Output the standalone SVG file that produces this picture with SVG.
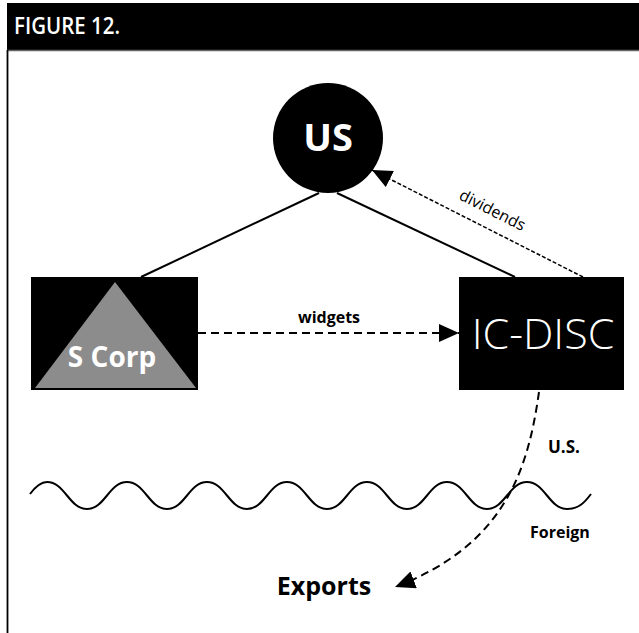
<svg xmlns="http://www.w3.org/2000/svg" width="639" height="633" viewBox="0 0 639 633">
  <defs>
    <marker id="head" viewBox="0 0 20 18" refX="20" refY="9" markerWidth="20" markerHeight="18" markerUnits="userSpaceOnUse" orient="auto">
      <path d="M0,0 L20,9 L0,18 Z" fill="#000"/>
    </marker>
    <style>
      .lbl { font-family: "Open Sans", "Liberation Sans", sans-serif; fill: #000; }
      .wt { font-family: "Open Sans", "Liberation Sans", sans-serif; fill: #fff; }
      .solid { stroke: #000; stroke-width: 2; fill: none; }
      .dash { stroke: #000; stroke-width: 2; fill: none; stroke-dasharray: 8 5; }
      .fine { stroke: #000; stroke-width: 1.5; fill: none; stroke-dasharray: 4 2; }
    </style>
  </defs>

  <rect width="639" height="633" fill="#fff"/>

  <!-- frame: title bar and left rule -->
  <g id="frame">
    <rect x="7" y="3" width="632" height="47" fill="#000"/>
    <line x1="7" y1="50.5" x2="639" y2="50.5" stroke="#666" stroke-width="1.5"/>
    <line x1="7.5" y1="50" x2="7.5" y2="633" stroke="#000" stroke-width="1.8"/>
    <text class="wt" x="14" y="34" font-size="23" font-weight="600" textLength="106" lengthAdjust="spacingAndGlyphs">FIGURE 12.</text>
  </g>

  <!-- ownership lines, flows and the border wave -->
  <g id="connectors">
    <line class="solid" x1="319" y1="193" x2="141" y2="277"/>
    <line class="solid" x1="337" y1="193" x2="515" y2="277"/>
    <line class="dash" x1="198" y1="333" x2="459" y2="333" marker-end="url(#head)"/>
    <line class="fine" x1="583" y1="277" x2="372" y2="170" marker-end="url(#head)"/>
    <path class="dash" d="M539,392 C528,470 505,545 395,587" marker-end="url(#head)" stroke-dasharray="8 6"/>
    <path class="solid" d="M30,494 C36,486 41,482 47,482 C65,482 69,509 87,509 C105,509 109,482 127,482 C145,482 149,509 167,509 C185,509 189,482 207,482 C225,482 229,509 247,509 C265,509 269,482 287,482 C305,482 309,509 327,509 C345,509 349,482 367,482 C385,482 389,509 407,509 C425,509 429,482 447,482 C465,482 469,509 487,509 C505,509 509,482 527,482 C545,482 549,509 567,509 C579,509 585,502 591,494"/>
    <text class="lbl" x="329" y="323" font-size="16" font-weight="700" text-anchor="middle">widgets</text>
    <text class="lbl" font-size="16" text-anchor="middle" transform="translate(490,215) rotate(26.9)">dividends</text>
    <text class="lbl" x="548" y="453" font-size="17" font-weight="700">U.S.</text>
    <text class="lbl" x="530" y="538" font-size="16" font-weight="700">Foreign</text>
  </g>

  <g id="us">
    <circle cx="328" cy="138" r="55" fill="#000"/>
    <text class="wt" x="328" y="151" font-size="38" font-weight="700" text-anchor="middle">US</text>
  </g>

  <g id="s-corp">
    <rect x="31" y="277" width="167" height="113" fill="#000"/>
    <polygon points="115,282 35,388 196,388" fill="#8c8c8d"/>
    <text class="wt" x="112" y="367" font-size="28" font-weight="700" text-anchor="middle">S Corp</text>
  </g>

  <g id="ic-disc">
    <rect x="459" y="277" width="165" height="113" fill="#000"/>
    <text class="wt" x="543" y="349" font-size="43" font-weight="300" text-anchor="middle">IC-DISC</text>
  </g>

  <g id="exports">
    <text class="lbl" x="324" y="595" font-size="25" font-weight="700" text-anchor="middle">Exports</text>
  </g>
</svg>
